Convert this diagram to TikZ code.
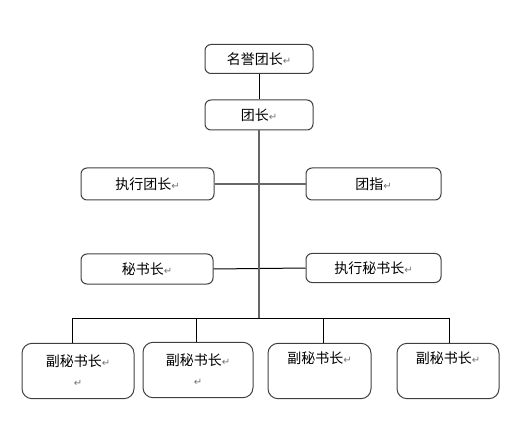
\documentclass[tikz,border=0pt]{standalone}
\usepackage{fontspec}
\setmainfont{Noto Sans CJK SC}
\newfontfamily\symfont{DejaVu Sans}
\newcommand{\retmark}{{\symfont\fontsize{7.5pt}{8pt}\selectfont\color{black!55}↵}}
\tikzset{
  rolebox/.style={draw=black!75, line width=0.75pt, rounded corners=4.5pt, inner sep=0pt,
    font=\fontsize{10.5pt}{15pt}\selectfont, align=center},
  deputybox/.style={rolebox, rounded corners=7.5pt, minimum height=41.5pt},
  link/.style={line width=0.75pt, black},
  trunk/.style={line width=1.1pt, black!60}
}
\begin{document}
\begin{tikzpicture}[x=0.75pt, y=-0.75pt]
\useasboundingbox (0,0) rectangle (520,427);

\node[rolebox, minimum width=81pt, minimum height=21.75pt] at (259,59) (hon) {名誉团长\retmark};
\node[rolebox, minimum width=81pt, minimum height=22.5pt] at (259,115) (head) {团长\retmark};

\node[rolebox, minimum width=99.75pt, minimum height=24pt] at (147.5,184) (exec) {执行团长\retmark};
\node[rolebox, minimum width=101.25pt, minimum height=24pt] at (373.5,184) (cond) {团指\retmark};

\node[rolebox, minimum width=99pt, minimum height=22.5pt] at (147,269) (sec) {秘书长\retmark};
\node[rolebox, minimum width=101.25pt, minimum height=21.75pt] at (373.5,268) (esec) {执行秘书长\retmark};

\node[deputybox, minimum width=84pt] at (78,371) (dep1) {副秘书长\retmark\\\retmark};
\node[deputybox, minimum width=82.5pt] at (198,370) (dep2) {副秘书长\retmark\\\retmark};
\node[deputybox, minimum width=77.25pt] at (319.5,371) (dep3) {副秘书长\retmark\\\strut};
\node[deputybox, minimum width=76.5pt] at (448,371) (dep4) {副秘书长\retmark\\\strut};

\coordinate (bus) at (259,318);
\coordinate (b1) at (72,318);
\coordinate (b2) at (196,318);
\coordinate (b3) at (323,318);
\coordinate (b4) at (449,318);

\draw[link] (hon) -- (head);
\draw[trunk] (exec.east) -- (cond.west);
\draw[link] (sec.east) -- (esec.west);
\draw[trunk] (head) -- (bus);

\draw[link] (b1) -- (b4);
\draw[link] (b1) -- (b1 |- dep1.north);
\draw[link] (b2) -- (b2 |- dep2.north);
\draw[link] (b3) -- (b3 |- dep3.north);
\draw[link] (b4) -- (b4 |- dep4.north);
\end{tikzpicture}
\end{document}
